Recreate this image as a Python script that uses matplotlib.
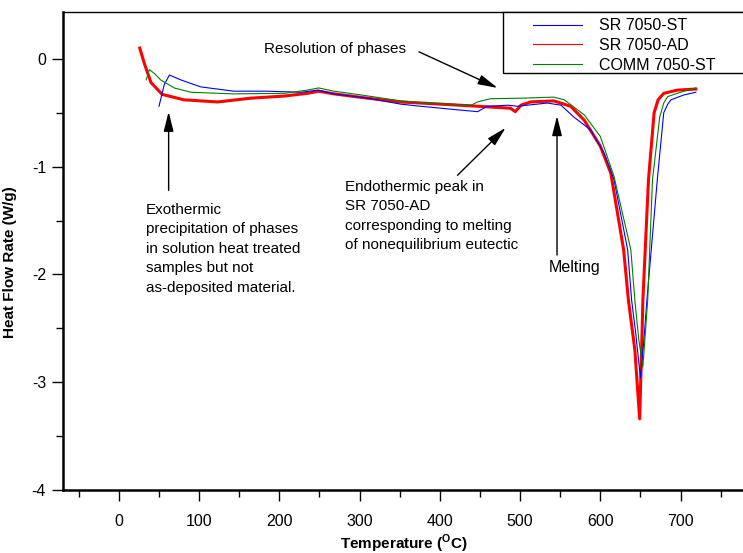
import matplotlib
matplotlib.use('Agg')
import matplotlib.pyplot as plt
from matplotlib.patches import Rectangle
from matplotlib.ticker import MultipleLocator

plt.rcParams['font.family'] = ['Liberation Sans', 'DejaVu Sans']
plt.rcParams['mathtext.fontset'] = 'custom'
plt.rcParams['mathtext.rm'] = 'Liberation Sans'
plt.rcParams['mathtext.bf'] = 'Liberation Sans:bold'
plt.rcParams['axes.unicode_minus'] = False

# SR 7050-AD (red, thick)
ad_temp = [26, 31.6, 40, 54, 81, 123, 164, 206, 235, 249, 268, 310, 351, 376, 439, 488,
           494, 501, 513, 542, 563, 580, 600, 613, 629, 635, 643, 649, 652, 653,
           660, 667, 672, 679, 696, 719]
ad_flow = [0.10, -0.04, -0.22, -0.33, -0.38, -0.40, -0.365, -0.345, -0.32, -0.30, -0.325,
           -0.365, -0.40, -0.41, -0.436, -0.458, -0.49, -0.43, -0.40, -0.39, -0.44, -0.57,
           -0.81, -1.06, -1.77, -2.24, -2.70, -3.34, -2.54, -2.24, -1.12, -0.50, -0.38,
           -0.32, -0.29, -0.28]

# SR 7050-ST (blue)
st_temp = [50, 56.5, 63, 77, 102, 143, 185, 227, 248, 268, 310, 351, 376, 418, 447, 459,
           485, 497, 509, 534, 551, 567, 588, 605, 617, 634, 639, 644, 650, 655, 658, 671,
           679, 684, 688, 704, 719]
st_flow = [-0.44, -0.24, -0.15, -0.195, -0.26, -0.30, -0.30, -0.31, -0.29, -0.325, -0.365,
           -0.42, -0.44, -0.47, -0.49, -0.44, -0.43, -0.44, -0.43, -0.41, -0.43, -0.54,
           -0.66, -0.88, -1.12, -1.77, -2.24, -2.54, -2.96, -2.54, -2.24, -1.12, -0.50,
           -0.42, -0.38, -0.335, -0.31]

# COMM 7050-ST (green)
comm_temp = [34, 38, 45, 52, 69, 90, 143, 206, 235, 249, 268, 302, 351, 376, 439, 447, 463,
             501, 542, 555, 580, 600, 617, 638, 643, 648, 653, 656, 659, 665, 674, 679, 684,
             700, 719]
comm_flow = [-0.195, -0.10, -0.14, -0.195, -0.27, -0.31, -0.325, -0.32, -0.29, -0.27, -0.30,
             -0.335, -0.39, -0.405, -0.43, -0.40, -0.37, -0.365, -0.355, -0.38, -0.52, -0.72,
             -1.09, -1.77, -2.24, -2.61, -2.86, -2.55, -2.24, -1.12, -0.54, -0.41, -0.35,
             -0.31, -0.27]

W, H = 743, 553
fig = plt.figure(figsize=(W / 100, H / 100), dpi=100)
ax = fig.add_axes([0.0844, 0.1139, 0.918, 0.8635])

ax.plot(st_temp, st_flow, color='blue', lw=0.8, label='SR 7050-ST', zorder=3)
ax.plot(ad_temp, ad_flow, color='red', lw=2.2, label='SR 7050-AD', zorder=2)
ax.plot(comm_temp, comm_flow, color='green', lw=0.8, label='COMM 7050-ST', zorder=3)

ax.set_xlim(-70, 780)
ax.set_ylim(-4, 0.43)
ax.xaxis.set_major_locator(MultipleLocator(100))
ax.xaxis.set_minor_locator(MultipleLocator(50))
ax.yaxis.set_major_locator(MultipleLocator(1))
ax.yaxis.set_minor_locator(MultipleLocator(0.5))
ax.tick_params(which='major', length=8, width=1, labelsize=11.5)
ax.tick_params(which='minor', length=5, width=1)
ax.tick_params(axis='x', pad=9)
ax.tick_params(axis='y', pad=4)
ax.spines['right'].set_visible(False)
ax.spines['left'].set_linewidth(1.8)
ax.spines['bottom'].set_linewidth(1.8)
ax.spines['top'].set_linewidth(1.0)

ax.set_xlabel(r'Temperature ($^{\mathbf{O}}$C)', fontsize=11, fontweight='bold', labelpad=3)
ax.set_ylabel('Heat Flow Rate (W/g)', fontsize=11, fontweight='bold')
ax.yaxis.set_label_coords(-0.067, 0.477)

# legend box runs off the right edge, so frame is drawn separately
box_top = 12.5
box_bot = 73
frame = Rectangle((503 / W, 1 - box_bot / H), 0.4, (box_bot - box_top) / H,
                  transform=fig.transFigure, facecolor='white', edgecolor='black',
                  lw=1.0, zorder=4, clip_on=False)
ax.add_patch(frame)
leg = ax.legend(loc='upper left', bbox_to_anchor=(528 / W, 1 - (box_top + 1) / H),
                bbox_transform=fig.transFigure, borderaxespad=0, frameon=False,
                fontsize=11.5, handlelength=3.1, handletextpad=1.05, labelspacing=0.3,
                borderpad=0.3)
leg.set_zorder(5)
for h in leg.legend_handles:
    h.set_linewidth(0.8)

arrow = dict(arrowstyle='-|>,head_length=0.6,head_width=0.15', mutation_scale=20,
             color='black', lw=1, shrinkA=0, shrinkB=0)

ax.annotate('', xy=(472, -0.27), xytext=(374, 0.065), arrowprops=arrow)
ax.text(180.7, 0.093, 'Resolution of phases', fontsize=11, ha='left', va='center')

ax.annotate('', xy=(62, -0.49), xytext=(62, -1.22), arrowprops=arrow)
ax.text(33.6, -1.337, 'Exothermic\nprecipitation of phases\nin solution heat treated\n'
        'samples but not\nas-deposited material.', fontsize=11, ha='left', va='top',
        linespacing=1.5)

ax.annotate('', xy=(482, -0.64), xytext=(422, -1.08), arrowprops=arrow)
ax.text(281.6, -1.12, 'Endothermic peak in\nSR 7050-AD\ncorresponding to melting\n'
        'of nonequilibrium eutectic', fontsize=11, ha='left', va='top', linespacing=1.5)

ax.annotate('', xy=(546, -0.53), xytext=(546, -1.82), arrowprops=arrow)
ax.text(568, -1.94, 'Melting', fontsize=11.5, ha='center', va='center')

fig.savefig('out.png', dpi=100)
